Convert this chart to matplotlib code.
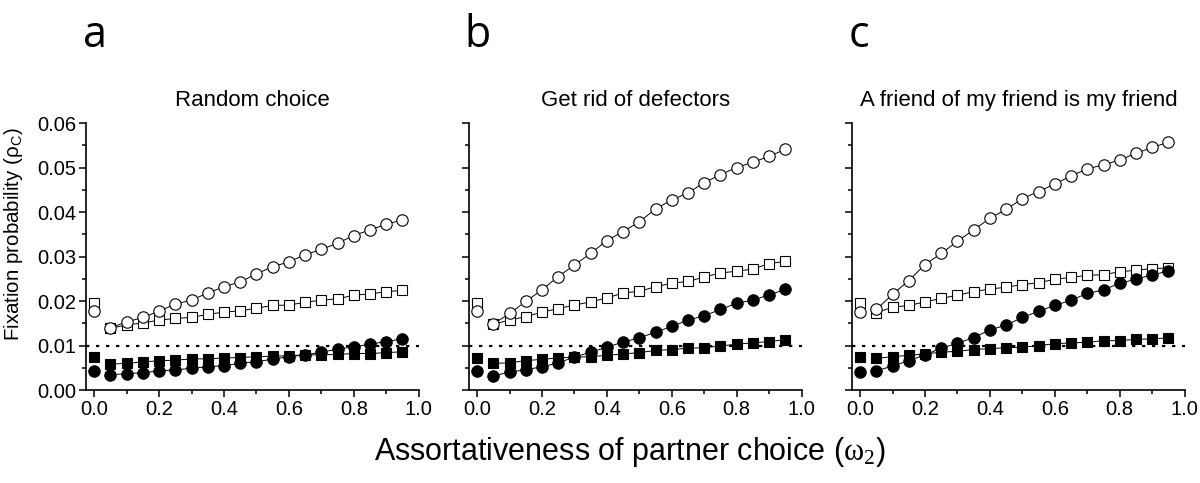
import matplotlib
matplotlib.use("Agg")
import matplotlib.pyplot as plt
from matplotlib.ticker import MultipleLocator, FormatStrFormatter

plt.rcParams['font.family'] = ['Liberation Sans', 'DejaVu Sans']
plt.rcParams['mathtext.fontset'] = 'custom'
plt.rcParams['mathtext.rm'] = 'Liberation Serif'
plt.rcParams['mathtext.it'] = 'Liberation Serif:italic'
plt.rcParams['mathtext.sf'] = 'Liberation Sans'

omega = [0.0, 0.05, 0.10, 0.15, 0.20, 0.25, 0.30, 0.35, 0.40, 0.45, 0.50,
         0.55, 0.60, 0.65, 0.70, 0.75, 0.80, 0.85, 0.90, 0.95]

titles = ["Random choice", "Get rid of defectors",
          "A friend of my friend is my friend"]
letters = ["a", "b", "c"]

# panel a
a_open_circ = [0.0178, 0.0140, 0.0153, 0.0163, 0.0177, 0.0193, 0.0202, 0.0218, 0.0232, 0.0243,
               0.0261, 0.0277, 0.0288, 0.0304, 0.0316, 0.0330, 0.0347, 0.0360, 0.0372, 0.0383]
a_open_sq = [0.0195, 0.0139, 0.0146, 0.0151, 0.0157, 0.0161, 0.0163, 0.0170, 0.0175, 0.0178,
             0.0184, 0.0190, 0.0191, 0.0197, 0.0202, 0.0205, 0.0213, 0.0216, 0.0221, 0.0224]
a_fill_circ = [0.0042, 0.0034, 0.0037, 0.0039, 0.0043, 0.0045, 0.0049, 0.0052, 0.0055, 0.0060,
               0.0064, 0.0069, 0.0075, 0.0079, 0.0085, 0.0092, 0.0097, 0.0103, 0.0109, 0.0115]
a_fill_sq = [0.0075, 0.0058, 0.0060, 0.0063, 0.0066, 0.0067, 0.0070, 0.0070, 0.0072, 0.0073,
             0.0075, 0.0076, 0.0077, 0.0079, 0.0079, 0.0080, 0.0082, 0.0082, 0.0084, 0.0086]

# panel b
b_open_circ = [0.0178, 0.0148, 0.0172, 0.0199, 0.0225, 0.0255, 0.0281, 0.0307, 0.0336, 0.0356,
               0.0378, 0.0407, 0.0427, 0.0443, 0.0466, 0.0484, 0.0500, 0.0512, 0.0525, 0.0541]
b_open_sq = [0.0195, 0.0148, 0.0157, 0.0165, 0.0175, 0.0183, 0.0191, 0.0198, 0.0207, 0.0218,
             0.0222, 0.0232, 0.0240, 0.0244, 0.0254, 0.0263, 0.0267, 0.0272, 0.0284, 0.0289]
b_fill_circ = [0.0042, 0.0032, 0.0040, 0.0046, 0.0052, 0.0061, 0.0074, 0.0085, 0.0096, 0.0108,
               0.0117, 0.0130, 0.0143, 0.0157, 0.0167, 0.0181, 0.0195, 0.0202, 0.0214, 0.0226]
b_fill_sq = [0.0073, 0.0060, 0.0061, 0.0066, 0.0069, 0.0072, 0.0074, 0.0075, 0.0078, 0.0081,
             0.0084, 0.0089, 0.0091, 0.0094, 0.0095, 0.0099, 0.0103, 0.0106, 0.0109, 0.0113]

# panel c
c_open_circ = [0.0176, 0.0181, 0.0215, 0.0246, 0.0282, 0.0307, 0.0334, 0.0360, 0.0386, 0.0406,
               0.0430, 0.0446, 0.0463, 0.0481, 0.0497, 0.0506, 0.0517, 0.0532, 0.0545, 0.0557]
c_open_sq = [0.0196, 0.0174, 0.0186, 0.0190, 0.0198, 0.0206, 0.0213, 0.0221, 0.0227, 0.0231,
             0.0237, 0.0241, 0.0249, 0.0253, 0.0258, 0.0259, 0.0266, 0.0269, 0.0273, 0.0274]
c_fill_circ = [0.0041, 0.0043, 0.0054, 0.0066, 0.0079, 0.0094, 0.0105, 0.0118, 0.0135, 0.0146,
               0.0163, 0.0177, 0.0190, 0.0202, 0.0217, 0.0225, 0.0240, 0.0249, 0.0259, 0.0267]
c_fill_sq = [0.0075, 0.0071, 0.0075, 0.0078, 0.0081, 0.0085, 0.0087, 0.0091, 0.0093, 0.0095,
             0.0096, 0.0100, 0.0104, 0.0106, 0.0107, 0.0111, 0.0111, 0.0114, 0.0115, 0.0117]

panels = [
    [a_open_sq, a_open_circ, a_fill_circ, a_fill_sq],
    [b_open_sq, b_open_circ, b_fill_circ, b_fill_sq],
    [c_open_sq, c_open_circ, c_fill_circ, c_fill_sq],
]
styles = [("s", "white", 7.2), ("o", "white", 8.2), ("o", "black", 8.2), ("s", "black", 7.2)]

fig = plt.figure(figsize=(12, 4.83), dpi=100)
lefts = [0.0717, 0.3908, 0.71]

for i, series in enumerate(panels):
    ax = fig.add_axes([lefts[i], 0.1925, 0.2772, 0.5528])
    ax.axhline(0.01, color="black", linestyle=(0, (1.5, 3)), linewidth=1.6, zorder=1)
    for vals, (mk, fc, ms) in zip(series, styles):
        # first point (omega = 0) stands apart, the rest are joined
        ax.plot(omega[:1], vals[:1], marker=mk, markerfacecolor=fc, markeredgecolor="black",
                markersize=ms, markeredgewidth=0.8, linestyle="none", clip_on=False, zorder=3)
        ax.plot(omega[1:], vals[1:], marker=mk, markerfacecolor=fc, markeredgecolor="black",
                markersize=ms, markeredgewidth=0.8, color="black", linewidth=0.7,
                clip_on=False, zorder=3)
    ax.set_xlim(-0.025, 1.0)
    ax.set_ylim(0, 0.06)
    ax.spines["top"].set_visible(False)
    ax.spines["right"].set_visible(False)
    ax.spines["left"].set_linewidth(1.2)
    ax.spines["bottom"].set_linewidth(1.2)
    ax.xaxis.set_major_locator(MultipleLocator(0.2))
    ax.xaxis.set_minor_locator(MultipleLocator(0.1))
    ax.yaxis.set_major_locator(MultipleLocator(0.01))
    ax.yaxis.set_minor_locator(MultipleLocator(0.005))
    ax.xaxis.set_major_formatter(FormatStrFormatter("%.1f"))
    ax.yaxis.set_major_formatter(FormatStrFormatter("%.2f"))
    ax.tick_params(which="major", length=5, width=1.1, labelsize=14.5, pad=2)
    ax.tick_params(which="minor", length=3, width=1.1)
    if i > 0:
        ax.tick_params(axis="y", labelleft=False)
    else:
        ax.set_ylabel(r"Fixation probability (ρ$_\mathsf{C}$)", fontsize=14.8)
        ax.yaxis.set_label_coords(-0.185, 0.585)
    fig.text(lefts[i] + 0.2772 / 2, 0.78, titles[i], fontsize=16,
             ha="center", va="baseline")

for i, let in enumerate(letters):
    fig.text([0.079, 0.398, 0.716][i], 0.902, let, fontsize=31, family="Open Sans",
             ha="center", va="baseline")

fig.text(0.525, 0.048, r"Assortativeness of partner choice ($\mathrm{\omega}_{\mathrm{2}}$)",
         fontsize=22, ha="center", va="baseline")

fig.savefig("out.png", dpi=100)
